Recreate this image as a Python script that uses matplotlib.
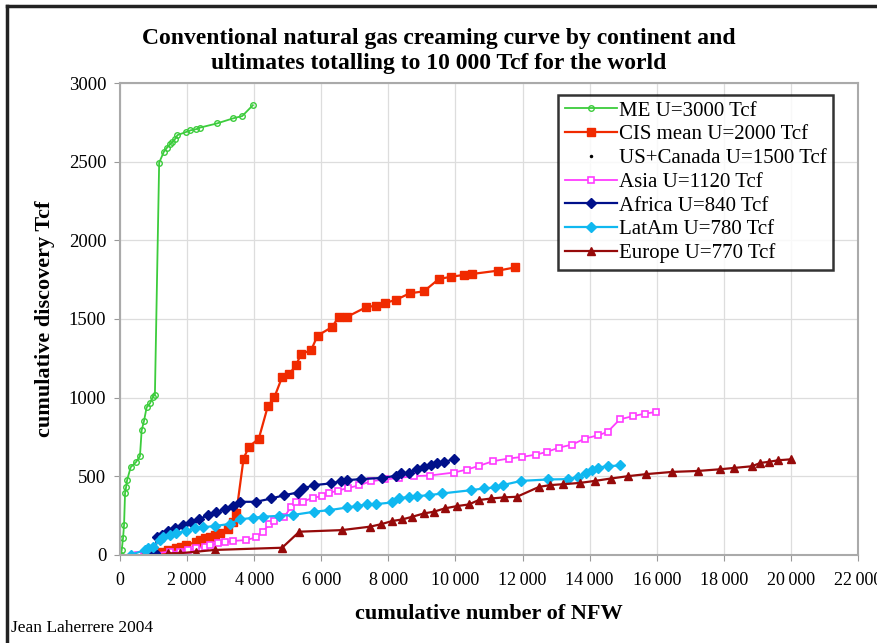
import matplotlib.pyplot as plt
from matplotlib.lines import Line2D
import numpy as np

plt.rcParams['font.family'] = ['Liberation Serif', 'DejaVu Serif']

# cumulative number of NFW (x) and cumulative discovery Tcf (y)
me_x = [20, 50, 90, 120, 150, 180, 210, 318, 475, 594, 645, 713, 793, 891, 971, 1040,
        1167, 1307, 1386, 1485, 1564, 1634, 1713, 1960, 2099, 2277, 2376, 2890, 3366, 3643, 3960]
me_y = [0, 30, 108, 190, 393, 430, 475, 558, 590, 628, 792, 850, 938, 963, 1002, 1020,
        2494, 2563, 2585, 2610, 2625, 2642, 2669, 2688, 2699, 2707, 2716, 2743, 2775, 2790, 2859]

cis_x = [680, 891, 1238, 1435, 1683, 1832, 1980, 2277, 2376, 2525, 2673, 2822, 2970, 3217,
         3366, 3465, 3683, 3841, 4138, 4406, 4604, 4832, 5049, 5248, 5396, 5693, 5890, 6317,
         6514, 6781, 7326, 7623, 7900, 8218, 8633, 9059, 9504, 9881, 10247, 10493, 11256, 11782]
cis_y = [0, 0, 21, 32, 42, 53, 63, 84, 95, 106, 112, 127, 137, 163,
         211, 264, 613, 687, 740, 945, 1004, 1131, 1152, 1205, 1279, 1300, 1395, 1448,
         1511, 1515, 1574, 1585, 1602, 1621, 1663, 1676, 1754, 1769, 1780, 1786, 1807, 1828]

asia_x = [544, 1485, 1782, 2030, 2277, 2525, 2673, 2920, 3119, 3366, 3762, 4060, 4257, 4455,
          4604, 4901, 5099, 5248, 5445, 5742, 6020, 6237, 6485, 6811, 7128, 7474, 7900, 8316,
          8762, 9237, 9950, 10344, 10693, 11117, 11583, 11978, 12405, 12721, 13098, 13484,
          13860, 14256, 14533, 14900, 15296, 15643, 15969]
asia_y = [0, 21, 21, 32, 42, 53, 63, 74, 80, 89, 95, 112, 148, 195,
          217, 243, 306, 338, 338, 363, 374, 395, 408, 427, 442, 469, 480, 490,
          501, 505, 524, 543, 566, 596, 613, 623, 638, 655, 683, 702,
          740, 761, 782, 862, 883, 898, 909]

africa_x = [793, 1040, 1108, 1238, 1435, 1634, 1881, 2129, 2356, 2623, 2871, 3119, 3366,
            3564, 4060, 4505, 4901, 5296, 5445, 5792, 6287, 6584, 6781, 7178, 7821, 8218,
            8366, 8613, 8860, 9059, 9257, 9455, 9653, 9950]
africa_y = [0, 11, 116, 127, 152, 169, 190, 211, 226, 254, 271, 292, 313,
            338, 338, 359, 380, 397, 423, 444, 455, 469, 476, 482, 490, 503,
            518, 522, 545, 560, 575, 587, 592, 607]

latam_x = [318, 742, 841, 990, 1188, 1287, 1485, 1683, 1960, 2228, 2475, 2822, 3267, 3564,
           3960, 4257, 4752, 5148, 5792, 6237, 6781, 7078, 7375, 7623, 8118, 8316, 8613,
           8860, 9207, 9603, 10475, 10841, 11188, 11405, 11960, 12771, 13345, 13662, 13880,
           14058, 14256, 14533, 14900]
latam_y = [0, 32, 46, 53, 95, 116, 127, 141, 152, 169, 176, 184, 197, 226,
           236, 243, 249, 254, 275, 285, 302, 311, 323, 323, 334, 359, 370,
           374, 380, 391, 412, 423, 429, 444, 471, 480, 482, 496, 518,
           543, 556, 564, 569]

europe_x = [1435, 1782, 2277, 2822, 4832, 5346, 6614, 7455, 7771, 8118, 8415, 8712, 9059,
            9356, 9682, 10049, 10396, 10693, 11069, 11435, 11832, 12494, 12821, 13217, 13712,
            14158, 14633, 15148, 15693, 16465, 17227, 17900, 18296, 18840, 19088, 19335,
            19623, 19998]
europe_y = [11, 11, 21, 32, 46, 148, 158, 180, 195, 216, 226, 243, 264,
            275, 296, 311, 321, 349, 359, 366, 370, 433, 444, 450, 458,
            471, 486, 501, 514, 528, 534, 545, 553, 564, 585, 592,
            602, 608]

fig = plt.figure(figsize=(8.78, 6.43), dpi=100)
ax = fig.add_axes([0.1367, 0.1369, 0.8405, 0.734])

ax.plot(me_x, me_y, color='#3ccc3c', lw=1.3, marker='o', ms=4, mfc='none', mew=1,
        label='ME U=3000 Tcf')
ax.plot(cis_x, cis_y, color='#f02a00', lw=1.6, marker='s', ms=5.5,
        label='CIS mean U=2000 Tcf')
ax.plot([], [], color='black', ls='none', marker='.', ms=3, label='US+Canada U=1500 Tcf')
ax.plot(asia_x, asia_y, color='#ff3cff', lw=1.3, marker='s', ms=5, mfc='white', mew=1.2,
        label='Asia U=1120 Tcf')
ax.plot(africa_x, africa_y, color='#00108a', lw=1.6, marker='D', ms=5,
        label='Africa U=840 Tcf')
ax.plot(latam_x, latam_y, color='#10b8f0', lw=1.6, marker='D', ms=5,
        label='LatAm U=780 Tcf')
ax.plot(europe_x, europe_y, color='#960a0a', lw=1.6, marker='^', ms=6,
        label='Europe U=770 Tcf')

ax.set_xlim(0, 22000)
ax.set_ylim(0, 3000)
ax.set_xticks(np.arange(0, 22001, 2000))
ax.set_xticklabels(['0'] + ['{:,}'.format(v).replace(',', '\u2009') for v in range(2000, 22001, 2000)])
ax.set_yticks(np.arange(0, 3001, 500))
ax.tick_params(labelsize=13, length=4, color='#999999')
ax.tick_params(axis='x', pad=8)
ax.tick_params(axis='y', pad=6, labelsize=13.5)
ax.grid(True, color='#dddddd', lw=0.9)
for s in ax.spines.values():
    s.set_color('#aaaaaa')
    s.set_linewidth(1.5)

ax.set_xlabel('cumulative number of NFW', fontsize=16, fontweight='bold', labelpad=11)
ax.set_ylabel('cumulative discovery Tcf', fontsize=16, fontweight='bold', labelpad=10)

fig.text(0.5, 0.921, 'Conventional natural gas creaming curve by continent and\n'
         'ultimates totalling to 10 000 Tcf for the world',
         ha='center', va='center', fontsize=17, fontweight='bold', linespacing=1.22)
fig.text(0.013, 0.024, 'Jean Laherrere 2004', fontsize=12.5, ha='left', va='center')

leg = ax.legend(loc='upper right', bbox_to_anchor=(0.966, 0.975), fontsize=15,
                frameon=True, fancybox=False, edgecolor='black', handlelength=2.5,
                handletextpad=0.1, labelspacing=0.2, borderpad=0.3, borderaxespad=0)
leg.get_frame().set_linewidth(1.8)

# outer frame of the figure
fig.add_artist(Line2D([0.008, 0.008], [0, 0.991], color='#222222', lw=2.5))
fig.add_artist(Line2D([0.008, 1.0], [0.991, 0.991], color='#222222', lw=2.5))

fig.savefig('out.png', dpi=100)
